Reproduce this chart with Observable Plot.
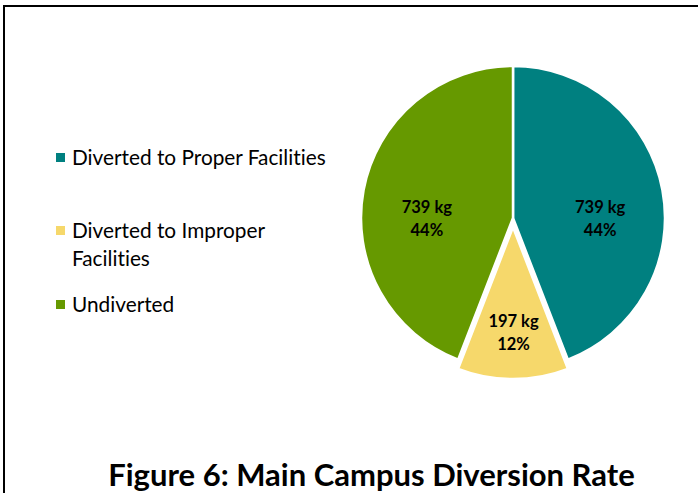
<!DOCTYPE html>
<html>
<head>
<meta charset="utf-8">
<script src="https://cdn.jsdelivr.net/npm/d3@7"></script>
<script src="https://cdn.jsdelivr.net/npm/@observablehq/plot@0.6"></script>
<style>
  html, body { margin: 0; padding: 0; background: #fff; }
  body { width: 698px; height: 493px; overflow: hidden; position: relative; font-family: Lato, "Open Sans", sans-serif; font-variant-ligatures: none; }
  #frame { position: absolute; left: 3px; top: 5px; width: 800px; height: 600px; border-top: 2px solid #000; border-left: 2px solid #000; box-sizing: border-box; }
  #chart { position: absolute; left: 0; top: 0; }
  #legend { position: absolute; left: 0; top: 0; width: 698px; height: 430px; pointer-events: none; }
  .item { position: absolute; left: 56px; display: flex; align-items: flex-start; font-size: 20.8px; line-height: 28px; color: #000; }
  .sw { width: 9px; height: 9px; margin-top: 10px; margin-right: 7px; flex: none; }
  .lab { width: 264px; }
  #title { position: absolute; left: 0; width: 743px; top: 456px; text-align: center; font-weight: bold; font-size: 31px; line-height: 36px; color: #000; white-space: nowrap; }
</style>
</head>
<body>
<div id="frame"></div>
<div id="chart"></div>
<div id="legend"></div>
<div id="title"></div>
<script>
// ---- data ----
const categories = ["Diverted to Proper Facilities", "Diverted to Improper Facilities", "Undiverted"];
const kilograms = [739, 197, 739];
const percentLabels = ["44%", "12%", "44%"];
const colors = ["#008080", "#F6D86B", "#669900"];
const explodedCategory = "Diverted to Improper Facilities";
const titleText = "Figure 6: Main Campus Diversion Rate";

// ---- derived table ----
const rows = categories.map((c, i) => ({category: c, kg: kilograms[i], pct: percentLabels[i]}));
const arcs = d3.pie().sort(null).value(d => d.kg)(rows);
const explode = 0.06;   // fraction of radius
const labelR = 0.58;    // fraction of radius
const slices = arcs.map(a => {
  const mid = (a.startAngle + a.endAngle) / 2;
  const off = a.data.category === explodedCategory ? explode : 0;
  return {
    ...a.data,
    startAngle: a.startAngle,
    endAngle: a.endAngle,
    ox: off * Math.sin(mid),
    oy: off * Math.cos(mid),
    lx: (labelR + off) * Math.sin(mid),
    ly: (labelR + off) * Math.cos(mid)
  };
});

const color = Plot.scale({color: {type: "ordinal", domain: categories, range: colors}});

// custom pie mark drawn through Plot's x/y scales
function pieMark(index, scales) {
  const {x, y} = scales;
  const R = x(1) - x(0);
  const g = d3.create("svg:g");
  const arc = d3.arc().innerRadius(0).outerRadius(R);
  g.selectAll("path")
    .data(slices)
    .join("path")
    .attr("transform", d => `translate(${x(d.ox)},${y(d.oy)})`)
    .attr("d", d => arc({startAngle: d.startAngle, endAngle: d.endAngle}))
    .attr("fill", d => color.apply(d.category))
    .attr("stroke", "#fff")
    .attr("stroke-width", 2.5)
    .attr("stroke-linejoin", "round");
  return g.node();
}

const plot = Plot.plot({
  width: 698,
  height: 430,
  margin: 0,
  x: {type: "linear", domain: [-1, 1], range: [513 - 152, 513 + 152], axis: null},
  y: {type: "linear", domain: [-1, 1], range: [218 + 152, 218 - 152], axis: null},
  style: {background: "transparent", overflow: "visible"},
  marks: [
    pieMark,
    Plot.text(slices, {
      x: "lx",
      y: "ly",
      text: d => `${d.kg} kg\n${d.pct}`,
      fontFamily: "Lato, sans-serif",
      fontWeight: "bold",
      fontSize: 16.5,
      lineHeight: 1.4,
      dy: 15,
      fill: "#000"
    })
  ]
});
document.getElementById("chart").appendChild(plot);

// legend (HTML) using Plot's color scale
const tops = [143, 216, 290];
const legend = d3.select("#legend");
categories.forEach((c, i) => {
  const item = legend.append("div").attr("class", "item").style("top", tops[i] + "px");
  item.append("div").attr("class", "sw").style("background", color.apply(c));
  item.append("div").attr("class", "lab").text(c);
});

document.getElementById("title").textContent = titleText;
</script>
</body>
</html>
